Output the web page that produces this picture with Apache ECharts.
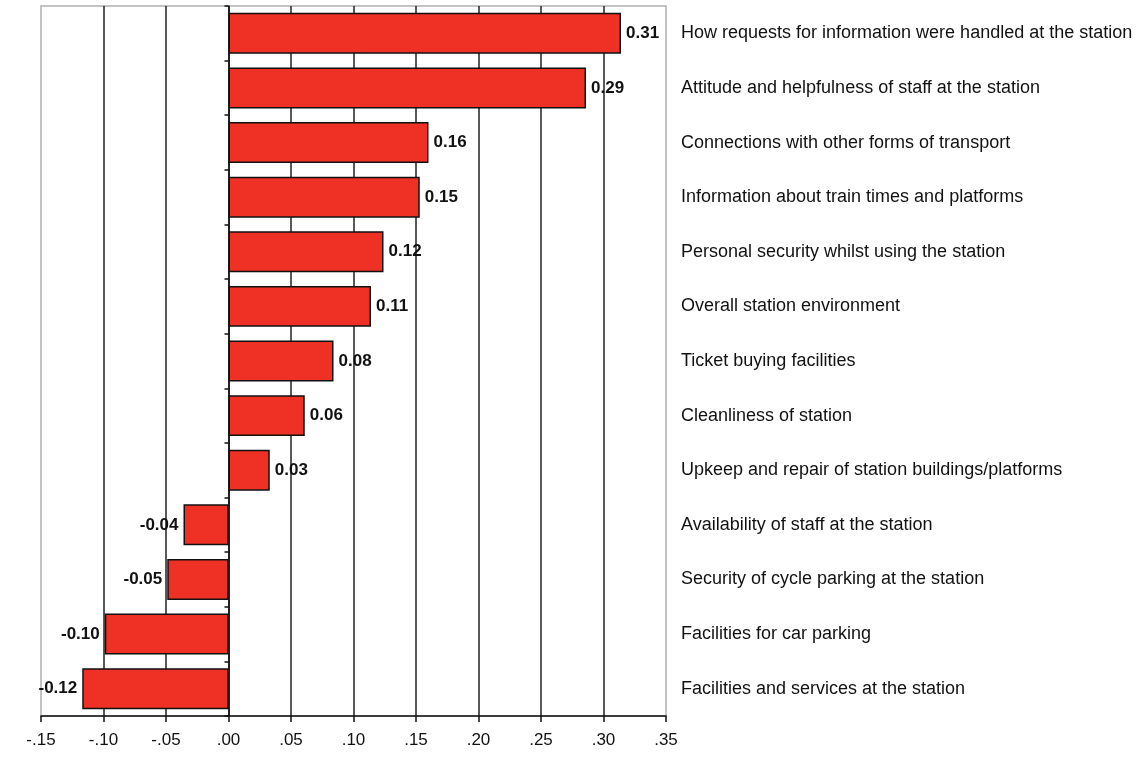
<!DOCTYPE html>
<html>
<head>
<meta charset="utf-8">
<script src="https://cdn.jsdelivr.net/npm/echarts@6/dist/echarts.min.js"></script>
<style>
  html, body { margin: 0; padding: 0; background: #fff; }
  #chart { width: 1141px; height: 757px; }
</style>
</head>
<body>
<div id="chart"></div>
<script>
// Station attributes, top to bottom
const categories = [
  'How requests for information were handled at the station',
  'Attitude and helpfulness of staff at the station',
  'Connections with other forms of transport',
  'Information about train times and platforms',
  'Personal security whilst using the station',
  'Overall station environment',
  'Ticket buying facilities',
  'Cleanliness of station',
  'Upkeep and repair of station buildings/platforms',
  'Availability of staff at the station',
  'Security of cycle parking at the station',
  'Facilities for car parking',
  'Facilities and services at the station'
];
const values = [0.314, 0.286, 0.160, 0.153, 0.124, 0.114, 0.084, 0.061, 0.033, -0.036, -0.049, -0.099, -0.117];

const chart = echarts.init(document.getElementById('chart'));

// Excel style tick labels: .05, -.10
function tickLabel(v) {
  return v.toFixed(2).replace('0.', '.');
}

const barData = values.map(v => ({
  value: v,
  label: { position: v < 0 ? 'left' : 'right' }
}));

chart.setOption({
  animation: false,
  grid: {
    left: 41,
    right: 475,
    top: 6,
    bottom: 41,
    show: true,
    borderColor: '#b0b0b0',
    borderWidth: 1.5
  },
  xAxis: {
    type: 'value',
    min: -0.15,
    max: 0.35,
    interval: 0.05,
    axisLine: { show: true, lineStyle: { color: '#111', width: 1.5 } },
    axisTick: { show: true, length: 6, lineStyle: { color: '#111', width: 1.5 } },
    axisLabel: {
      formatter: tickLabel,
      color: '#111',
      fontFamily: 'Liberation Sans, Arial',
      fontSize: 17,
      margin: 16
    },
    splitLine: {
      show: true,
      showMinLine: false,
      showMaxLine: false,
      lineStyle: { color: '#222', width: 1.5 }
    }
  },
  yAxis: [
    {
      // labels on the right side of the plot
      type: 'category',
      data: categories,
      inverse: true,
      position: 'right',
      axisLine: { show: false, onZero: false },
      axisTick: { show: false },
      axisLabel: {
        color: '#111',
        fontFamily: 'Liberation Sans, Arial',
        fontSize: 18,
        margin: 15
      }
    },
    {
      // zero line with category ticks
      type: 'category',
      data: categories,
      inverse: true,
      position: 'left',
      axisLine: { show: true, onZero: true, lineStyle: { color: '#111', width: 1.5 } },
      axisTick: { show: true, length: 4, lineStyle: { color: '#111', width: 1.5 } },
      axisLabel: { show: false }
    }
  ],
  series: [
    {
      type: 'bar',
      yAxisIndex: 0,
      data: barData,
      barCategoryGap: '25%',
      itemStyle: { color: '#ee3124', borderColor: '#111', borderWidth: 1.5 },
      label: {
        show: true,
        distance: 5,
        color: '#111',
        fontWeight: 'bold',
        fontFamily: 'Liberation Sans, Arial',
        fontSize: 17,
        formatter: p => p.value.toFixed(2)
      },
      z: 3
    }
  ]
});
</script>
</body>
</html>
